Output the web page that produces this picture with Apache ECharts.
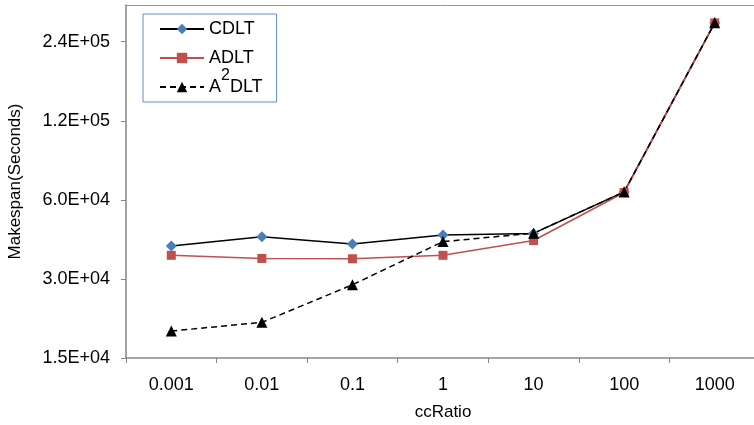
<!DOCTYPE html>
<html>
<head>
<meta charset="utf-8">
<script src="https://cdn.jsdelivr.net/npm/echarts@6/dist/echarts.min.js"></script>
<style>html,body{margin:0;padding:0;background:#fff;}#c{width:754px;height:425px;}</style>
</head>
<body>
<div id="c"></div>
<script>
var categories = ['0.001', '0.01', '0.1', '1', '10', '100', '1000'];
var cdlt  = [40000, 43400, 40700, 44100, 44700, 64300, 283000];
var adlt  = [36900, 35900, 35800, 36900, 42000, 64000, 283000];
var a2dlt = [19000, 20500, 28500, 41600, 44800, 64300, 283000];
var yTickValues = [15000, 30000, 60000, 120000, 240000];
var yTickLabels = ['1.5E+04', '3.0E+04', '6.0E+04', '1.2E+05', '2.4E+05'];
var yBase = 15000;
var yTop = 331000;

function toAxis(v) { return Math.log(v / yBase) / Math.LN2; }
var tickPos = yTickValues.map(toAxis);
var FONT = 'Liberation Sans';

var chart = echarts.init(document.getElementById('c'));
chart.setOption({
  animation: false,
  backgroundColor: '#fff',
  grid: { left: 126, top: 5, width: 634, height: 353, outerBoundsMode: 'none', containLabel: false, show: false },
  legend: {
    orient: 'vertical', left: 143, top: 14,
    padding: [6, 14, 6, 16], itemGap: 1, itemWidth: 44, itemHeight: 13,
    borderColor: '#5f8fcf', borderWidth: 1, backgroundColor: '#fff',
    data: ['CDLT', 'ADLT', 'A2DLT'],
    formatter: function (name) {
      if (name === 'A2DLT') return '{n|A}{s|2}{n|DLT}';
      if (name === 'ADLT') return '{n|ADLT}{s| }';
      return '{n|' + name + '}';
    },
    textStyle: {
      fontFamily: FONT, fontSize: 18, color: '#000', lineHeight: 18,
      rich: {
        n: { fontFamily: FONT, fontSize: 18, color: '#000', lineHeight: 18 },
        s: { fontFamily: FONT, fontSize: 16, color: '#000', lineHeight: 18, padding: [-11, 0, 11, 0] }
      }
    }
  },
  xAxis: [{
    type: 'category', data: categories, boundaryGap: true,
    name: 'ccRatio', nameLocation: 'middle', nameGap: 46,
    nameTextStyle: { fontFamily: FONT, fontSize: 17, color: '#000' },
    axisLine: { lineStyle: { color: '#868686', width: 1.5 } },
    axisTick: { show: true, alignWithLabel: false, length: 5, lineStyle: { color: '#868686', width: 1 } },
    axisLabel: { fontFamily: FONT, fontSize: 18, color: '#000', margin: 18 },
    splitLine: { show: false }
  }, {
    type: 'category', data: categories, position: 'top', boundaryGap: true,
    axisLine: { show: true, lineStyle: { color: '#6f9ad3', width: 1 } },
    axisTick: { show: false }, axisLabel: { show: false }, splitLine: { show: false }
  }],
  yAxis: {
    type: 'value', min: 0, max: toAxis(yTop),
    name: 'Makespan(Seconds)', nameLocation: 'middle', nameGap: 102,
    nameTextStyle: { fontFamily: FONT, fontSize: 17, color: '#000' },
    axisLine: { show: true, lineStyle: { color: '#868686', width: 1.5 } },
    axisTick: { show: true, length: 5, customValues: tickPos, lineStyle: { color: '#868686', width: 1 } },
    axisLabel: {
      fontFamily: FONT, fontSize: 18, color: '#000', margin: 16,
      customValues: tickPos,
      formatter: function (v) {
        for (var i = 0; i < tickPos.length; i++) if (Math.abs(tickPos[i] - v) < 1e-6) return yTickLabels[i];
        return '';
      }
    },
    splitLine: { show: false }
  },
  series: [
    {
      name: 'CDLT', type: 'line', data: cdlt.map(toAxis),
      symbol: 'diamond', symbolSize: 11,
      itemStyle: { color: '#4a7ebb' },
      lineStyle: { color: '#000', width: 1.5 }
    },
    {
      name: 'ADLT', type: 'line', data: adlt.map(toAxis),
      symbol: 'rect', symbolSize: 9,
      itemStyle: { color: '#c0504d' },
      lineStyle: { color: '#c0504d', width: 1.5 }
    },
    {
      name: 'A2DLT', type: 'line', data: a2dlt.map(toAxis),
      symbol: 'triangle', symbolSize: 11,
      itemStyle: { color: '#000' },
      lineStyle: { color: '#000', width: 1.5, type: [6, 4] }
    }
  ]
});
</script>
</body>
</html>
